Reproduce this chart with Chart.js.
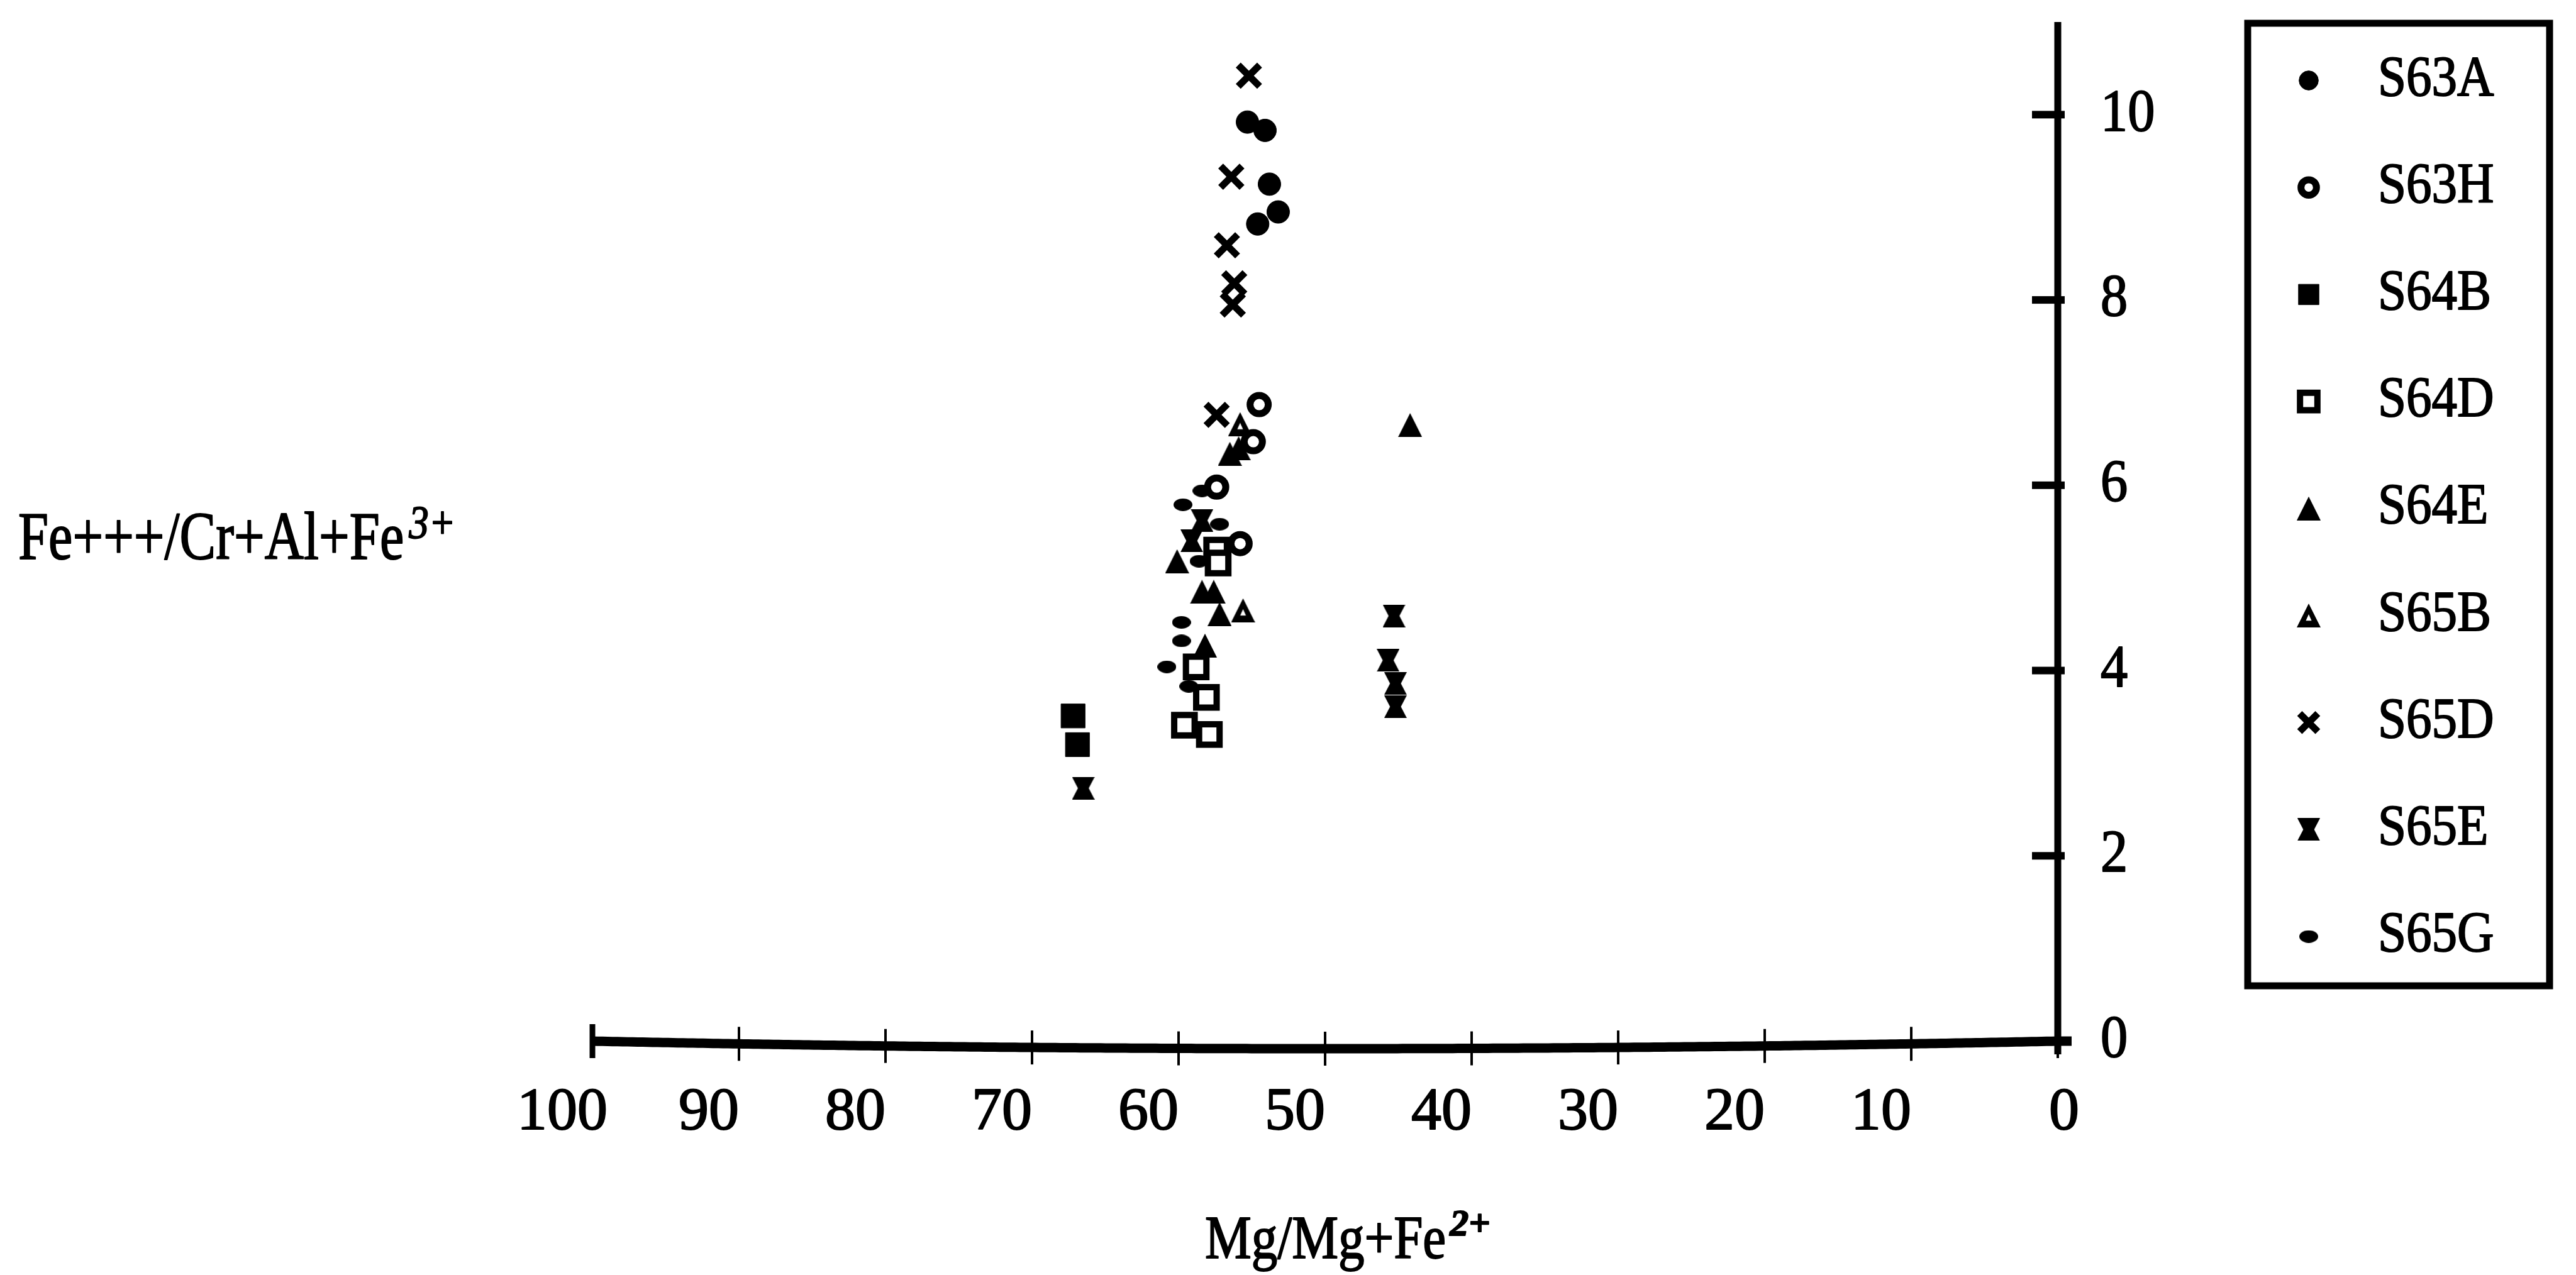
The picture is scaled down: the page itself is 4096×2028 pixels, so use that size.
<!DOCTYPE html>
<html>
<head>
<meta charset="utf-8">
<title>Spinel Fe3+ ratio vs Mg number</title>
<script src="https://cdn.jsdelivr.net/npm/chart.js@4.4.1/dist/chart.umd.min.js"></script>
<style>
  html, body { margin: 0; padding: 0; background: #fff; }
  #wrap { width: 4096px; height: 2028px; }
</style>
</head>
<body>
<div id="wrap"><canvas id="spinel-chart" width="4096" height="2028"></canvas></div>
<script>
// Sample analyses: [Mg/Mg+Fe2+, Fe3+/Cr+Al+Fe3+]
const sampleNames = ['S63A', 'S63H', 'S64B', 'S64D', 'S64E', 'S65B', 'S65D', 'S65E', 'S65G'];

const s63a = [[55.3, 9.92], [54.1, 9.83], [53.8, 9.25], [53.2, 8.95], [54.6, 8.82]];
const s63h = [[54.5, 6.87], [54.9, 6.47], [57.4, 5.98], [55.8, 5.37]];
const s64b = [[67.2, 3.51], [66.9, 3.20]];
const s64d = [[57.4, 5.30], [57.3, 5.16], [58.8, 4.04], [58.1, 3.71], [59.6, 3.41], [57.9, 3.31]];
const s64e = [[56.5, 6.34], [55.9, 6.40], [60.1, 5.18], [58.4, 4.85], [57.6, 4.85], [57.2, 4.61], [58.2, 4.27], [44.2, 6.65]];
const s65b = [[55.8, 6.66], [55.6, 4.65]];
const s65d = [[55.2, 10.42], [56.4, 9.33], [56.7, 8.59], [56.2, 8.18], [56.3, 7.95], [57.4, 6.76]];
const s65e = [[58.4, 5.62], [59.1, 5.40], [66.5, 2.73], [45.3, 4.59], [45.7, 4.11], [45.2, 3.86], [45.2, 3.61]];
const s65g = [[59.7, 5.79], [58.4, 5.94], [57.2, 5.58], [58.6, 5.18], [59.8, 4.52], [59.8, 4.32], [60.8, 4.04], [59.3, 3.83]];

const xTicks = [100, 90, 80, 70, 60, 50, 40, 30, 20, 10, 0];
const yTicks = [0, 2, 4, 6, 8, 10];

const xTitle = 'Mg/Mg+Fe';
const xTitleSup = '2+';
const yTitle = 'Fe+++/Cr+Al+Fe';
const yTitleSup = '3+';

const ink = '#000';
const serif = '"Liberation Serif", "Times New Roman", serif';

const toPoints = rows => rows.map(([x, y]) => ({ x, y }));

// Small bitmaps for the marker shapes Chart.js has no built-in for
function markerCanvas(w, h, draw) {
    const c = document.createElement('canvas');
    c.width = w;
    c.height = h;
    const g = c.getContext('2d');
    g.fillStyle = ink;
    draw(g, w, h);
    return c;
}

const solidTriangle = markerCanvas(38, 38, (g, w, h) => {
    g.beginPath();
    g.moveTo(w / 2, 0);
    g.lineTo(w, h);
    g.lineTo(0, h);
    g.closePath();
    g.fill();
});

const hollowTriangle = markerCanvas(38, 38, (g, w, h) => {
    g.beginPath();
    g.moveTo(w / 2, 0);
    g.lineTo(w, h);
    g.lineTo(0, h);
    g.closePath();
    g.fill();
    g.fillStyle = '#fff';
    g.beginPath();
    g.moveTo(w / 2, h * 0.45);
    g.lineTo(w * 0.62, h * 0.72);
    g.lineTo(w * 0.38, h * 0.72);
    g.closePath();
    g.fill();
});

const hourglass = markerCanvas(36, 36, (g, w, h) => {
    g.beginPath();
    g.moveTo(0, 0);
    g.lineTo(w, 0);
    g.lineTo(w * 0.74, h / 2);
    g.lineTo(w, h);
    g.lineTo(0, h);
    g.lineTo(w * 0.26, h / 2);
    g.closePath();
    g.fill();
});

const dash = markerCanvas(30, 20, (g, w, h) => {
    g.beginPath();
    g.ellipse(w / 2, h / 2, w / 2, h / 2, 0, 0, Math.PI * 2);
    g.fill();
});

const markerStyles = [
    { pointStyle: 'circle', radius: 18, backgroundColor: ink, borderColor: ink, borderWidth: 1 },
    { pointStyle: 'circle', radius: 14.5, backgroundColor: '#fff', borderColor: ink, borderWidth: 11 },
    { pointStyle: 'rect', radius: 27, backgroundColor: ink, borderColor: ink, borderWidth: 1 },
    { pointStyle: 'rect', radius: 23, backgroundColor: '#fff', borderColor: ink, borderWidth: 10 },
    { pointStyle: solidTriangle, radius: 19, backgroundColor: ink, borderColor: ink, borderWidth: 0 },
    { pointStyle: hollowTriangle, radius: 19, backgroundColor: ink, borderColor: ink, borderWidth: 0 },
    { pointStyle: 'crossRot', radius: 24, backgroundColor: ink, borderColor: ink, borderWidth: 11 },
    { pointStyle: hourglass, radius: 18, backgroundColor: ink, borderColor: ink, borderWidth: 0 },
    { pointStyle: dash, radius: 12, backgroundColor: ink, borderColor: ink, borderWidth: 0 }
];

const seriesData = [s63a, s63h, s64b, s64d, s64e, s65b, s65d, s65e, s65g];

const datasets = sampleNames.map((name, i) => ({
    label: name,
    data: toPoints(seriesData[i]),
    pointStyle: markerStyles[i].pointStyle,
    pointRadius: markerStyles[i].radius,
    pointBackgroundColor: markerStyles[i].backgroundColor,
    pointBorderColor: markerStyles[i].borderColor,
    pointBorderWidth: markerStyles[i].borderWidth,
    pointHoverRadius: markerStyles[i].radius
}));

// Serif text, slightly thickened with an outline so it prints heavy
function drawText(ctx, str, x, y, size, opts = {}) {
    const squeeze = opts.squeeze || 1;
    ctx.save();
    ctx.font = `${opts.style || 'normal'} ${opts.weight || 'normal'} ${size}px ${serif}`;
    ctx.textAlign = opts.align || 'left';
    ctx.textBaseline = opts.baseline || 'alphabetic';
    ctx.fillStyle = ink;
    ctx.strokeStyle = ink;
    ctx.lineWidth = 2;
    ctx.lineJoin = 'round';
    ctx.translate(x, y);
    ctx.scale(squeeze, 1);
    ctx.fillText(str, 0, 0);
    ctx.strokeText(str, 0, 0);
    const width = ctx.measureText(str).width * squeeze;
    ctx.restore();
    return width;
}

// Axis rules, tick marks and tick labels, drawn from the chart's scales
const axisFrame = {
    id: 'axisFrame',
    beforeDatasetsDraw(chart) {
        const { ctx, scales: { x, y } } = chart;
        const y0 = y.getPixelForValue(0);
        const xZero = x.getPixelForValue(0);
        const xHundred = x.getPixelForValue(100);
        const sag = 12;
        const sagAt = px => {
            const u = (px - xHundred) / (xZero - xHundred);
            return y0 + sag * 4 * u * (1 - u);
        };

        ctx.save();
        ctx.strokeStyle = ink;
        ctx.fillStyle = ink;

        // horizontal axis, heavy and slightly bowed
        ctx.lineWidth = 15;
        ctx.beginPath();
        for (let px = xHundred; px <= xZero + 24; px += 8) {
            const py = sagAt(Math.min(px, xZero));
            if (px === xHundred) ctx.moveTo(px, py); else ctx.lineTo(px, py);
        }
        ctx.stroke();

        xTicks.forEach(v => {
            const px = x.getPixelForValue(v);
            const py = sagAt(px);
            ctx.lineWidth = v === 100 ? 9 : 4;
            ctx.beginPath();
            ctx.moveTo(px, py - 27);
            ctx.lineTo(px, py + 27);
            ctx.stroke();
        });

        // vertical axis on the right
        ctx.lineWidth = 11;
        ctx.beginPath();
        ctx.moveTo(xZero, y0 + 21);
        ctx.lineTo(xZero, y.getPixelForValue(11));
        ctx.stroke();

        yTicks.forEach(v => {
            const py = y.getPixelForValue(v);
            ctx.fillRect(xZero - 41, py - 6, 52, 12);
        });
        ctx.restore();

        xTicks.forEach(v => {
            const px = x.getPixelForValue(v) + (v === 0 ? 10 : -48);
            drawText(ctx, String(v), px, y0 + 140, 96, { align: 'center' });
        });
        yTicks.forEach(v => {
            drawText(ctx, String(v), xZero + 68, y.getPixelForValue(v), 96, { baseline: 'middle', squeeze: 0.9 });
        });
    },
    afterDraw(chart) {
        const { ctx } = chart;

        // axis titles
        let w = drawText(ctx, yTitle, 29, 889, 108, { squeeze: 0.8 });
        drawText(ctx, yTitleSup, 29 + w + 8, 856, 74, { style: 'italic', squeeze: 0.85 });
        w = drawText(ctx, xTitle, 1916, 2001, 97, { squeeze: 0.855 });
        drawText(ctx, xTitleSup, 1916 + w + 6, 1965, 60, { style: 'italic', weight: 'bold' });

        // boxed key
        const box = { left: 3574, top: 37, right: 4054, bottom: 1568 };
        ctx.save();
        ctx.strokeStyle = ink;
        ctx.lineWidth = 11;
        ctx.strokeRect(box.left, box.top, box.right - box.left, box.bottom - box.top);
        ctx.restore();

        const rowTop = 128, rowStep = 170.2, markerX = 3671, textX = 3781;
        chart.data.datasets.forEach((ds, i) => {
            const rowY = rowTop + i * rowStep;
            ctx.save();
            ctx.fillStyle = ds.pointBackgroundColor;
            ctx.strokeStyle = ds.pointBorderColor;
            ctx.lineWidth = ds.pointBorderWidth;
            Chart.helpers.drawPoint(ctx, {
                pointStyle: ds.pointStyle,
                radius: ds.pointRadius * 0.85,
                rotation: 0,
                borderWidth: ds.pointBorderWidth
            }, markerX, rowY);
            ctx.restore();
            drawText(ctx, ds.label, textX, rowY, 90, { baseline: 'middle', squeeze: 0.9 });
        });
    }
};

const spinelChart = new Chart(document.getElementById('spinel-chart'), {
    type: 'scatter',
    data: { datasets },
    options: {
        responsive: false,
        animation: false,
        devicePixelRatio: 1,
        layout: { padding: { left: 942, right: 824, top: 30, bottom: 372 } },
        scales: {
            x: { type: 'linear', reverse: true, min: 0, max: 100, display: false },
            y: { type: 'linear', min: 0, max: 11, display: false }
        },
        plugins: {
            legend: { display: false },
            tooltip: { enabled: false }
        }
    },
    plugins: [axisFrame]
});
</script>
</body>
</html>
